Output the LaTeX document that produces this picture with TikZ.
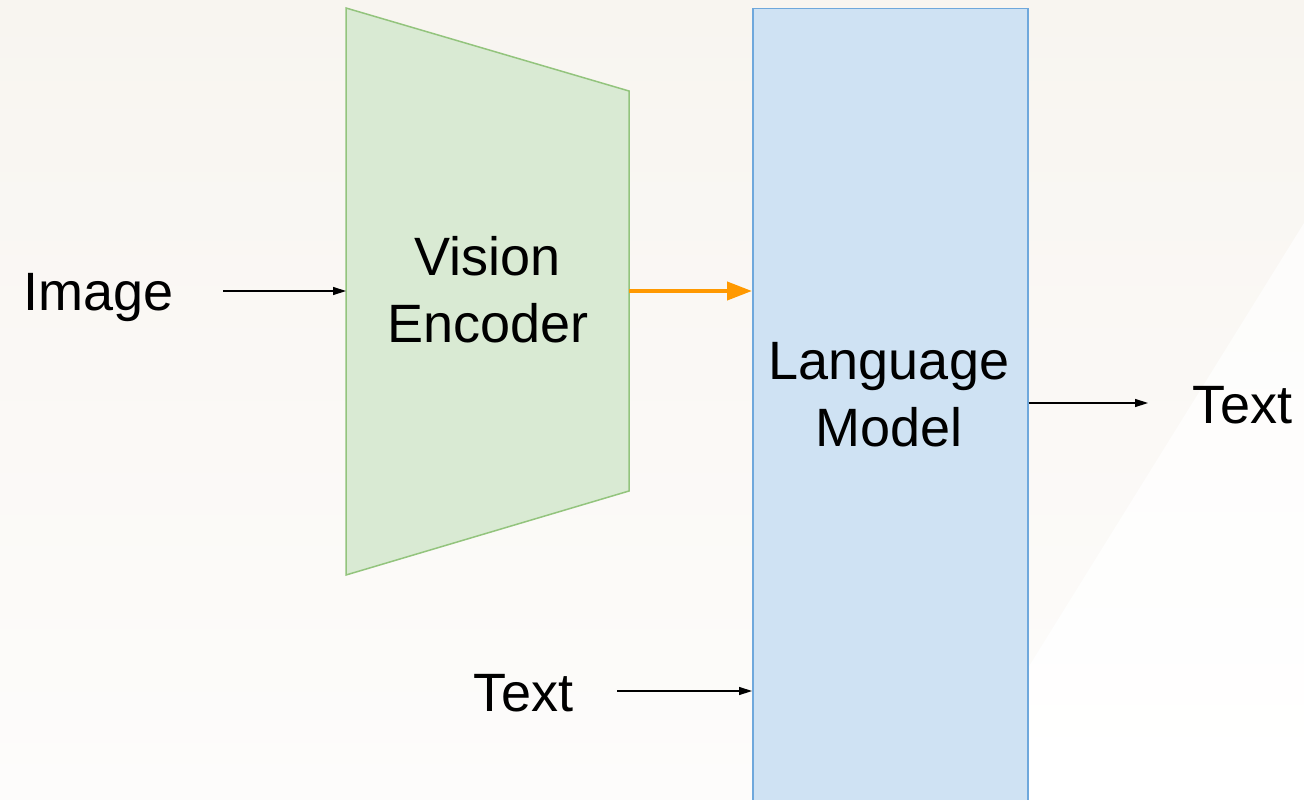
\documentclass[tikz,border=0pt]{standalone}
\usepackage{fontspec}
\setmainfont{Liberation Sans}
\usetikzlibrary{arrows.meta}
\definecolor{encfill}{HTML}{D9EAD3}
\definecolor{encline}{HTML}{93C47D}
\definecolor{lmfill}{HTML}{CFE2F3}
\definecolor{lmline}{HTML}{6FA8DC}
\definecolor{feat}{HTML}{FF9900}
\definecolor{bgtop}{HTML}{F8F5F0}
\definecolor{bgbot}{HTML}{FDFCFB}
\begin{document}
\begin{tikzpicture}[x=1pt,y=-1pt,
  lbl/.style={font=\fontsize{54}{67}\selectfont, inner sep=0pt, align=center},
  thin arrow/.style={draw=black, line width=1.4pt, -{Triangle[length=13pt,width=8pt]}},
  feat arrow/.style={draw=feat, line width=4pt, -{Triangle[length=25pt,width=18pt]}},
  encoder/.style={fill=encfill, draw=encline, line width=1.5pt, line join=miter},
  lmbox/.style={draw=lmline, fill=lmfill, line width=1.5pt, inner sep=0pt,
                minimum width=275pt, minimum height=800pt, anchor=north west},
]
\useasboundingbox (0,0) rectangle (1304,800);
% page background with a pale diagonal band on the right
\shade[top color=bgtop, bottom color=bgbot] (0,0) rectangle (1304,800);
\shade[top color=white!70!bgtop, bottom color=white] (1304,223) -- (1304,800) -- (946,800) -- cycle;

% vision encoder (trapezoid narrowing to the right)
\filldraw[encoder] (346,8) -- (629,91) -- (629,491) -- (346,575) -- cycle;
\coordinate (encW) at (346,291);
\coordinate (encE) at (629,291);
\node[lbl] (enctext) at (488,290) {Vision\\Encoder};

% language model column
\node[lmbox] (lm) at (752,8) {};
\node[lbl] (lmtext) at (889,395) {Language\\Model};

% inputs and output
\node[lbl, anchor=base] (img) at (98.5,310) {Image};
\node[lbl, anchor=base] (txtin) at (523.5,711) {Text};
\node[lbl, anchor=base] (txtout) at (1242.5,423) {Text};

\coordinate (imgstart) at (223,291);
\coordinate (txtinstart) at (617,691);
\coordinate (outy) at (0,403);
\coordinate (lmout) at (lm.east |- outy);
\coordinate (outend) at (1148,403);

% connectors
\draw[thin arrow] (imgstart) -- (encW);
\draw[feat arrow] (encE) -- (lm.west |- encE);
\draw[thin arrow] (txtinstart) -- (lm.west |- txtinstart);
\draw[thin arrow] (lmout) -- (outend);
\end{tikzpicture}
\end{document}
